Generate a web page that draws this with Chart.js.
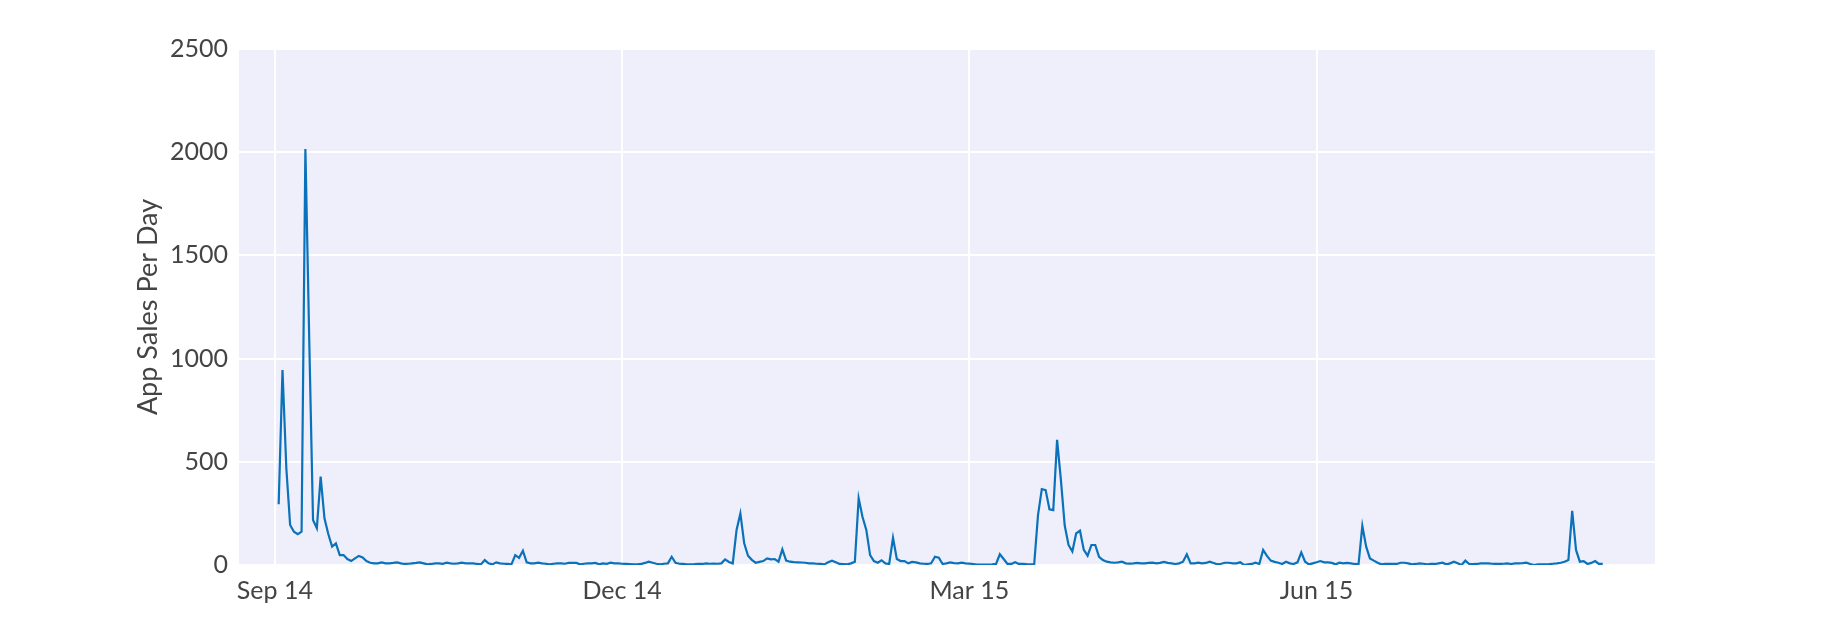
<!DOCTYPE html>
<html>
<head>
<meta charset="utf-8">
<script src="https://cdn.jsdelivr.net/npm/chart.js@4"></script>
<style>
  html, body { margin: 0; padding: 0; background: #ffffff; }
  #c { display: block; }
</style>
</head>
<body>
<canvas id="c" width="1830" height="636"></canvas>
<script>
// Day index of the first value (days counted from 1 Sep 2014)
const firstDay = 1;
// Daily app sales
const sales = [
  294, 945, 470, 194, 161, 149, 161, 2015, 1100, 218,
  178, 428, 226, 150, 89, 105, 48, 48, 29, 19,
  32, 44, 37, 19, 11, 8, 8, 13, 8, 8,
  10, 13, 8, 5, 6, 8, 10, 13, 8, 3,
  5, 8, 8, 6, 11, 8, 6, 8, 11, 8,
  8, 8, 5, 3, 24, 8, 3, 13, 8, 6,
  5, 3, 48, 35, 69, 13, 8, 8, 11, 8,
  6, 3, 6, 8, 8, 6, 10, 10, 10, 3,
  6, 8, 8, 10, 3, 8, 6, 11, 8, 8,
  6, 5, 4, 3, 3, 5, 10, 16, 11, 6,
  3, 6, 8, 40, 11, 6, 5, 3, 3, 4,
  6, 5, 8, 6, 7, 6, 8, 27, 15, 8,
  170, 250, 105, 45, 25, 11, 15, 19, 32, 27,
  29, 16, 76, 21, 16, 14, 13, 12, 11, 8,
  8, 6, 5, 3, 13, 21, 13, 5, 4, 3,
  8, 16, 323, 234, 170, 48, 19, 11, 23, 8,
  5, 132, 29, 19, 19, 8, 15, 13, 8, 6,
  5, 8, 40, 35, 5, 8, 13, 9, 8, 11,
  8, 7, 5, 2, 2, 2, 2, 3, 5, 52,
  29, 5, 5, 13, 5, 6, 4, 3, 3, 242,
  368, 363, 270, 266, 606, 412, 191, 97, 65, 153,
  166, 73, 45, 97, 97, 40, 24, 16, 13, 11,
  13, 16, 8, 7, 8, 10, 8, 8, 10, 11,
  8, 10, 15, 10, 8, 5, 8, 16, 52, 8,
  8, 11, 8, 10, 16, 10, 3, 6, 11, 11,
  8, 8, 13, 0, 3, 5, 11, 5, 73, 44,
  21, 15, 11, 5, 16, 8, 5, 13, 61, 16,
  3, 8, 13, 19, 13, 13, 10, 3, 11, 8,
  10, 8, 5, 3, 190, 89, 32, 21, 11, 3,
  5, 5, 5, 5, 11, 11, 8, 3, 5, 8,
  6, 3, 5, 5, 8, 11, 3, 8, 16, 8,
  0, 21, 5, 4, 5, 8, 8, 8, 6, 5,
  5, 6, 8, 5, 8, 8, 9, 11, 5, 0,
  3, 3, 3, 4, 6, 8, 11, 16, 24, 262,
  73, 16, 19, 5, 10, 19, 5, 5
];
// x-axis ticks (day positions) and their labels
const xTickDays = [0, 91, 182, 273];
const xTickLabels = ['Sep 14', 'Dec 14', 'Mar 15', 'Jun 15'];
const xMin = -9.4;
const xMax = 361.7;
// y-axis ticks
const yTicks = [0, 500, 1000, 1500, 2000, 2500];
const yTitle = 'App Sales Per Day';

const points = sales.map((v, i) => ({ x: firstDay + i, y: v }));

const bgPlugin = {
  id: 'plotBg',
  beforeDraw(chart) {
    const { ctx, chartArea: a } = chart;
    ctx.save();
    ctx.fillStyle = '#EEEFFB';
    ctx.fillRect(a.left, a.top, a.right - a.left, a.bottom - a.top);
    ctx.restore();
  }
};

const FONT = 'Lato, "Open Sans", sans-serif';

new Chart(document.getElementById('c'), {
  type: 'line',
  data: {
    datasets: [{
      data: points,
      borderColor: '#0A71BA',
      borderWidth: 2.2,
      pointRadius: 0,
      tension: 0,
      fill: false
    }]
  },
  options: {
    responsive: false,
    animation: false,
    devicePixelRatio: 1,
    layout: { padding: { left: 0, top: 49, right: 175, bottom: 0 } },
    plugins: { legend: { display: false }, tooltip: { enabled: false } },
    scales: {
      x: {
        type: 'linear',
        min: xMin,
        max: xMax,
        afterBuildTicks(scale) { scale.ticks = xTickDays.map(v => ({ value: v })); },
        afterFit(scale) { scale.height = 71; },
        ticks: {
          autoSkip: false,
          maxRotation: 0,
          padding: 11,
          color: '#444444',
          font: { family: FONT, size: 25 },
          callback(v) { const i = xTickDays.indexOf(v); return i >= 0 ? xTickLabels[i] : ''; }
        },
        grid: { color: '#ffffff', lineWidth: 2, drawTicks: false },
        border: { display: false }
      },
      y: {
        type: 'linear',
        min: 0,
        max: 2500,
        afterBuildTicks(scale) { scale.ticks = yTicks.map(v => ({ value: v })); },
        afterFit(scale) { scale.width = 239; },
        ticks: {
          padding: 11,
          color: '#444444',
          font: { family: FONT, size: 25 },
          callback(v) { return String(v); }
        },
        title: {
          display: true,
          text: yTitle,
          color: '#444444',
          font: { family: FONT, size: 27 },
          padding: { top: 132, bottom: 0 }
        },
        grid: { color: '#ffffff', lineWidth: 2, drawTicks: false },
        border: { display: false }
      }
    }
  },
  plugins: [bgPlugin]
});
</script>
</body>
</html>
